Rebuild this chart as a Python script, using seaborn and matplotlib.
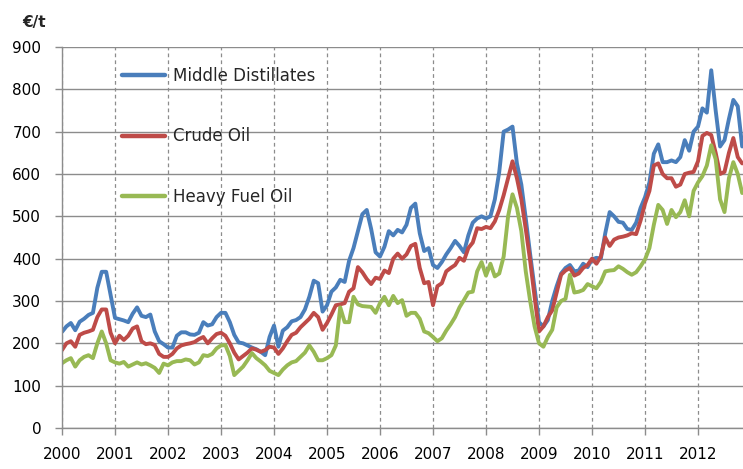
import numpy as np
import pandas as pd
import matplotlib
matplotlib.use("Agg")
import matplotlib.pyplot as plt
import seaborn as sns

# ---- data (monthly, Jan 2000 - Nov 2012), EUR per tonne ----
start_year = 2000
middle_distillates = [
    227, 240, 248, 231, 251, 258, 267, 272, 331, 369, 369, 314,   # 2000
    260, 257, 254, 250, 270, 285, 265, 262, 268, 228, 205, 198,   # 2001
    190, 190, 218, 226, 226, 221, 220, 225, 250, 242, 245, 262,   # 2002
    272, 272, 250, 220, 202, 200, 195, 190, 186, 180, 172, 215,   # 2003
    242, 192, 230, 238, 252, 255, 262, 280, 310, 348, 342, 275,   # 2004
    290, 322, 332, 350, 345, 395, 425, 465, 505, 515, 470, 415,   # 2005
    405, 428, 465, 455, 468, 462, 480, 520, 530, 460, 418, 425,   # 2006
    385, 378, 392, 410, 425, 442, 430, 415, 455, 485, 495, 500,   # 2007
    495, 500, 540, 605, 700, 705, 712, 625, 575, 495, 410, 330,   # 2008
    250, 240, 255, 300, 335, 365, 378, 385, 370, 372, 388, 380,   # 2009
    398, 402, 400, 460, 510, 500, 487, 485, 470, 468, 485, 520,   # 2010
    545, 580, 648, 670, 628, 628, 632, 628, 640, 680, 655, 700,   # 2011
    712, 755, 745, 845, 750, 665, 680, 730, 775, 760, 665,        # 2012
]
crude_oil = [
    184, 200, 205, 192, 220, 225, 228, 232, 262, 280, 280, 225,   # 2000
    200, 218, 208, 218, 235, 240, 205, 198, 200, 196, 175, 168,   # 2001
    168, 175, 188, 195, 198, 200, 203, 210, 215, 200, 212, 222,   # 2002
    225, 218, 200, 178, 162, 170, 178, 188, 185, 180, 184, 192,   # 2003
    190, 175, 188, 205, 220, 225, 238, 248, 258, 272, 262, 232,   # 2004
    248, 268, 290, 292, 295, 322, 330, 380, 368, 352, 340, 355,   # 2005
    352, 372, 366, 400, 412, 400, 410, 430, 435, 378, 342, 345,   # 2006
    290, 335, 342, 370, 378, 385, 402, 395, 425, 438, 472, 470,   # 2007
    475, 472, 488, 515, 550, 590, 630, 590, 540, 470, 395, 310,   # 2008
    228, 240, 262, 278, 320, 362, 372, 378, 360, 365, 378, 385,   # 2009
    400, 388, 405, 450, 430, 445, 450, 452, 455, 460, 458, 490,   # 2010
    530, 560, 620, 625, 600, 590, 590, 570, 575, 600, 603, 605,   # 2011
    630, 690, 697, 692, 650, 600, 605, 650, 685, 640, 625,        # 2012
]
heavy_fuel_oil = [
    153, 160, 165, 145, 160, 168, 172, 165, 200, 228, 200, 160,   # 2000
    155, 152, 156, 145, 150, 155, 150, 153, 148, 142, 130, 152,   # 2001
    148, 155, 158, 158, 162, 160, 150, 155, 172, 170, 175, 188,   # 2002
    195, 196, 170, 125, 135, 145, 160, 177, 165, 157, 148, 135,   # 2003
    130, 125, 138, 148, 155, 158, 168, 178, 195, 180, 160, 160,   # 2004
    165, 172, 195, 285, 250, 250, 310, 292, 288, 287, 286, 272,   # 2005
    295, 310, 290, 312, 295, 302, 265, 272, 272, 258, 228, 224,   # 2006
    215, 205, 212, 230, 245, 262, 285, 302, 320, 322, 370, 392,   # 2007
    360, 388, 358, 365, 405, 500, 552, 520, 465, 370, 300, 240,   # 2008
    200, 192, 215, 232, 285, 300, 305, 362, 320, 322, 326, 340,   # 2009
    335, 330, 345, 370, 372, 373, 382, 376, 368, 362, 368, 382,   # 2010
    398, 425, 480, 527, 515, 482, 515, 498, 510, 538, 500, 560,   # 2011
    580, 595, 620, 668, 635, 540, 510, 590, 628, 600, 555,        # 2012
]
series_names = ["Middle Distillates", "Crude Oil", "Heavy Fuel Oil"]
series_colors = ["#4A7EBB", "#BE4B48", "#98B954"]
year_ticks = list(range(2000, 2013))
value_ticks = list(range(0, 1000, 100))
unit_label = "€/t"

# ---- long-form table ----
n = len(middle_distillates)
t = start_year + np.arange(n) / 12.0
df = pd.DataFrame({
    "t": np.concatenate([t, t, t]),
    "value": middle_distillates + crude_oil + heavy_fuel_oil,
    "series": np.repeat(series_names, n),
})

sns.set_theme(style="white")
plt.rcParams["font.family"] = ["DejaVu Sans"]

W, H = 743, 469
fig = plt.figure(figsize=(W / 100, H / 100), dpi=100)
ax = fig.add_axes([62 / W, 41 / H, 681 / W, 381 / H])

sns.lineplot(data=df, x="t", y="value", hue="series", hue_order=series_names,
             palette=series_colors, linewidth=2.8, ax=ax, legend=True)

grid_col = "#8c8c8c"
ax.set_xlim(2000, 2000 + 681 / 53.0)
ax.set_ylim(0, 900)
ax.set_xticks(year_ticks)
ax.set_xticklabels([str(y) for y in year_ticks])
ax.set_yticks(value_ticks)
ax.set_axisbelow(True)
ax.yaxis.grid(True, color=grid_col, linewidth=1.0, linestyle="-")
ax.xaxis.grid(True, color=grid_col, linewidth=0.9, linestyle=(0, (3, 2.5)))

for s in ["top", "right"]:
    ax.spines[s].set_visible(False)
for s in ["left", "bottom"]:
    ax.spines[s].set_visible(True)
    ax.spines[s].set_color(grid_col)
    ax.spines[s].set_linewidth(1.0)

ax.tick_params(axis="both", bottom=True, left=True, direction="out", length=5,
               width=1, color=grid_col, labelsize=11, labelcolor="black")
ax.tick_params(axis="x", pad=9)
ax.tick_params(axis="y", pad=10)
ax.set_xlabel("")
ax.set_ylabel("")

leg = ax.legend(loc="upper left", bbox_to_anchor=((122 - 62) / 681, (428 - 67) / 381),
                frameon=False, fontsize=12, labelspacing=2.55, handlelength=2.6,
                handletextpad=0.45, borderpad=0, borderaxespad=0)
for line in leg.get_lines():
    line.set_linewidth(3.2)

fig.text(22 / W, 1 - 22 / H, unit_label, fontsize=11, fontweight="bold", va="center", ha="left")

fig.savefig("out.png", dpi=100)
